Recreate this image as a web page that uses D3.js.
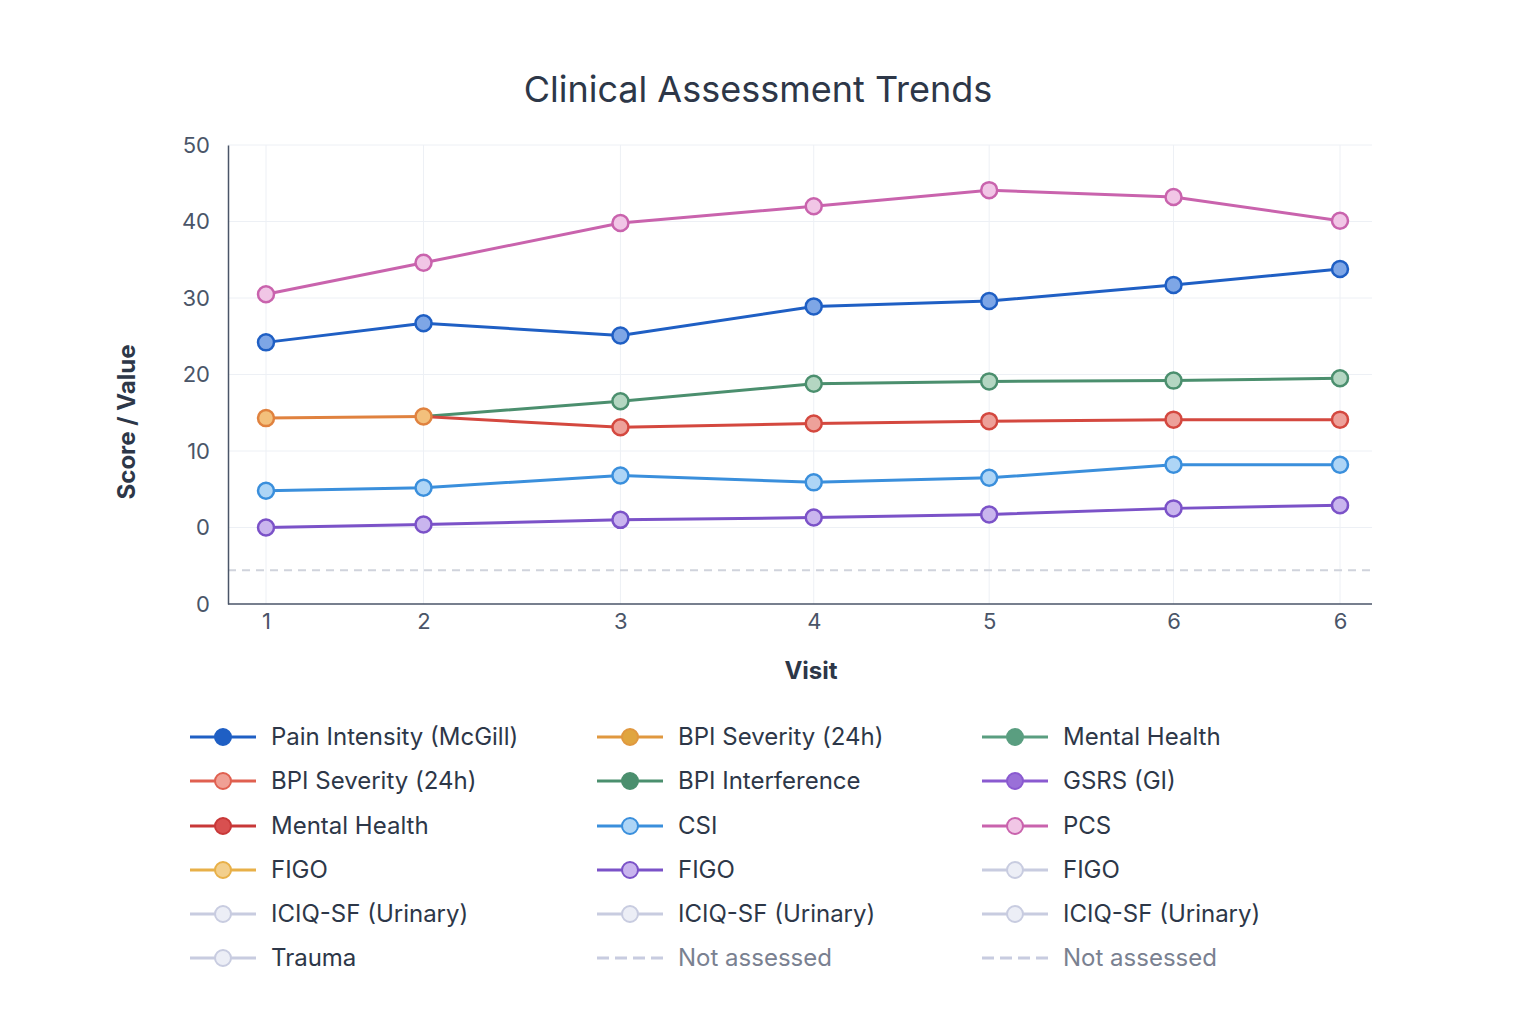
<!DOCTYPE html>
<html><head><meta charset="utf-8">
<script src="https://cdn.jsdelivr.net/npm/d3@7"></script>
<style>body{margin:0;background:#fff;font-family:Inter,"Noto Sans",sans-serif}</style>
</head><body><svg id="c" width="1536" height="1024"></svg>
<script>
const visitX = [1, 1.88, 2.98, 4.06, 5.04, 6.07, 7];
const visitLabels = ["1","2","3","4","5","6","6"];
const yTicks = [-10, 0, 10, 20, 30, 40, 50];
const yTickLabels = ["0","0","10","20","30","40","50"];
const pcs = [30.5, 34.6, 39.8, 42.0, 44.1, 43.2, 40.1];
const mcgill = [24.2, 26.7, 25.1, 28.9, 29.6, 31.7, 33.8];
const interference = [null, 14.5, 16.5, 18.8, 19.1, 19.2, 19.5];
const bpiOrange = [14.3, 14.5, null, null, null, null, null];
const bpiRed = [null, 14.5, 13.1, 13.6, 13.9, 14.1, 14.1];
const csi = [4.8, 5.2, 6.8, 5.9, 6.5, 8.2, 8.2];
const gsrs = [0, 0.4, 1.0, 1.3, 1.7, 2.5, 2.9];
const notAssessedLevel = -5.6;
const series = [
  {v: pcs, c: "#c963ad", f: "#f1c6e6", pts:[0,1,2,3,4,5,6]},
  {v: mcgill, c: "#1f5fc4", f: "#7ea6e6", pts:[0,1,2,3,4,5,6]},
  {v: interference, c: "#4b8f6e", f: "#b4d6c2", pts:[2,3,4,5,6]},
  {v: bpiRed, c: "#d4483f", f: "#eda19a", pts:[2,3,4,5,6]},
  {v: bpiOrange, c: "#e0823f", f: "#f3c07c", pts:[0,1]},
  {v: csi, c: "#3a8fdc", f: "#aed5f6", pts:[0,1,2,3,4,5,6]},
  {v: gsrs, c: "#7b52c8", f: "#c9b5ee", pts:[0,1,2,3,4,5,6]}
];
const legendItems = [
  ["Pain Intensity (McGill)","#1f5fc4","#1f5fc4",false],["BPI Severity (24h)","#e0983f","#e0a53f",false],["Mental Health","#5a9e80","#5a9e80",false],
  ["BPI Severity (24h)","#e06050","#f0a095",false],["BPI Interference","#4b8f6e","#4b8f6e",false],["GSRS (GI)","#8a5ad0","#9a70d8",false],
  ["Mental Health","#c83838","#d85050",false],["CSI","#3a8fdc","#aed5f6",false],["PCS","#c963ad","#f1c6e6",false],
  ["FIGO","#e8b048","#f3cf8c",false],["FIGO","#7b52c8","#c9b5ee",false],["FIGO","#c8cce0","#eceef6",false],
  ["ICIQ-SF (Urinary)","#c8cce0","#eceef6",false],["ICIQ-SF (Urinary)","#c8cce0","#eceef6",false],["ICIQ-SF (Urinary)","#c8cce0","#eceef6",false],
  ["Trauma","#c8cce0","#eceef6",false],["Not assessed","#c8cce0",null,true],["Not assessed","#c8cce0",null,true]
];
const svg = d3.select("#c");
const x = d3.scaleLinear().domain([1,7]).range([266,1340]);
const y = d3.scaleLinear().domain([-10,50]).range([604,145]);
svg.append("text").attr("x",758).attr("y",102).attr("text-anchor","middle").attr("font-size",36).attr("fill","#2d3748").text("Clinical Assessment Trends");
const g = svg.append("g");
g.selectAll(".vg").data(visitX).join("line").attr("x1",d=>x(d)).attr("x2",d=>x(d)).attr("y1",145).attr("y2",604).attr("stroke","#edf0f5");
g.selectAll(".hg").data(yTicks.slice(1)).join("line").attr("x1",228).attr("x2",1372).attr("y1",d=>y(d)).attr("y2",d=>y(d)).attr("stroke","#edf0f5");
g.append("line").attr("x1",228).attr("x2",1372).attr("y1",y(notAssessedLevel)).attr("y2",y(notAssessedLevel)).attr("stroke","#d0d3dc").attr("stroke-width",2).attr("stroke-dasharray","8,6");
const ya = svg.append("g").attr("transform","translate(228,0)").call(d3.axisLeft(y).tickValues(yTicks).tickSize(0).tickFormat((d,i)=>yTickLabels[i]));
ya.select(".domain").attr("stroke","#4a5568").attr("stroke-width",1.5);
ya.selectAll("text").attr("font-size",22).attr("fill","#4a5568").attr("x",-18).attr("font-family","Inter,sans-serif");
const xa = svg.append("g").attr("transform","translate(0,604)").call(d3.axisBottom(x).tickValues(visitX).tickSize(0).tickFormat((d,i)=>visitLabels[i]));
xa.select(".domain").attr("d","M228,0H1372").attr("stroke","#4a5568").attr("stroke-width",1.5);
xa.selectAll("text").attr("font-size",22).attr("fill","#4a5568").attr("dy",22).attr("font-family","Inter,sans-serif");
svg.append("text").attr("transform","translate(135,422) rotate(-90)").attr("text-anchor","middle").attr("font-size",24).attr("font-weight","bold").attr("fill","#2d3748").text("Score / Value");
svg.append("text").attr("x",811).attr("y",679).attr("text-anchor","middle").attr("font-size",24).attr("font-weight","bold").attr("fill","#2d3748").text("Visit");
const line = d3.line().defined(d=>d.v!=null).x(d=>x(d.x)).y(d=>y(d.v));
series.forEach(s=>{
  const pts = s.v.map((v,i)=>({x:visitX[i],v}));
  g.append("path").attr("d",line(pts)).attr("fill","none").attr("stroke",s.c).attr("stroke-width",3);
});
series.forEach(s=>{
  g.selectAll(null).data(s.pts).join("circle").attr("cx",i=>x(visitX[i])).attr("cy",i=>y(s.v[i])).attr("r",8)
    .attr("fill",s.f).attr("stroke",s.c).attr("stroke-width",2.5);
});
const colX=[190,597,982], rowY=[737,781,826,870,914,958];
legendItems.forEach((it,i)=>{
  const lx=colX[i%3], ly=rowY[Math.floor(i/3)];
  const lg=svg.append("g");
  lg.append("line").attr("x1",lx).attr("x2",lx+66).attr("y1",ly).attr("y2",ly).attr("stroke",it[1]).attr("stroke-width",3).attr("stroke-dasharray",it[3]?"12,6":null);
  if(it[2]) lg.append("circle").attr("cx",lx+33).attr("cy",ly).attr("r",8).attr("fill",it[2]).attr("stroke",it[1]).attr("stroke-width",2);
  lg.append("text").attr("x",lx+81).attr("y",ly+8).attr("font-size",24).attr("fill",it[3]?"#7a8191":"#2d3748").text(it[0]);
});
</script></body></html>
